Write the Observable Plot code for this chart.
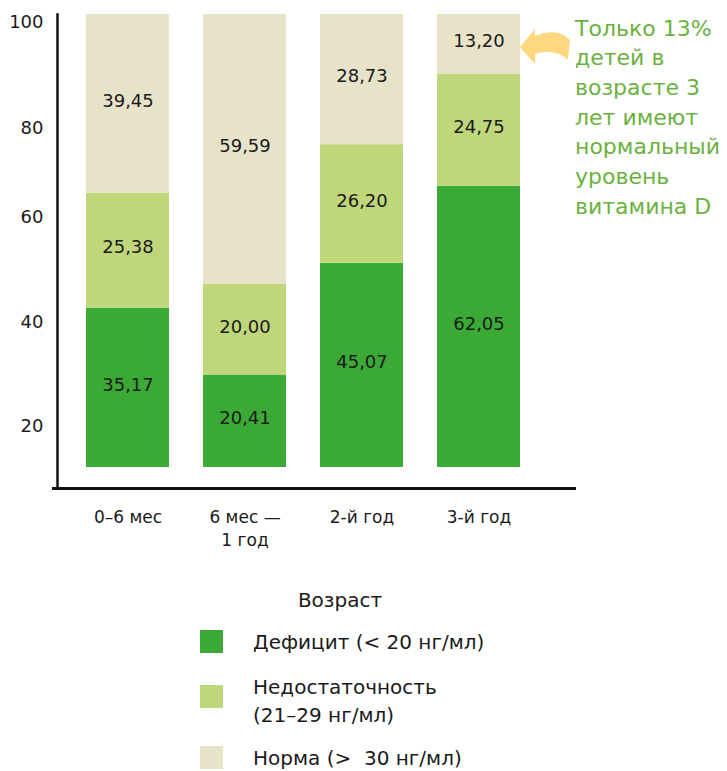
<!DOCTYPE html>
<html>
<head>
<meta charset="utf-8">
<script src="https://cdn.jsdelivr.net/npm/d3@7"></script>
<script src="https://cdn.jsdelivr.net/npm/@observablehq/plot@0.6"></script>
<style>
  body { margin: 0; background: #fff; font-family: "DejaVu Sans", sans-serif; color: #1a1a1a; }
  #wrap { position: relative; width: 727px; height: 771px; overflow: hidden; }
  #chart { position: absolute; left: 0; top: 0; }
  .lg { position: absolute; font-size: 20px; line-height: 28px; white-space: pre; color: #1a1a1a; }
  .sw { position: absolute; width: 23px; height: 23px; }
</style>
</head>
<body>
<div id="wrap">
  <div id="chart"></div>
</div>
<script>
// ---- data ----
const ages = ["0–6 мес", "6 мес —\n1 год", "2-й год", "3-й год"];
const statuses = ["Дефицит (< 20 нг/мл)", "Недостаточность\n(21–29 нг/мл)", "Норма (>  30 нг/мл)"];
const deficit = [35.17, 20.41, 45.07, 62.05];
const insufficiency = [25.38, 20.00, 26.20, 24.75];
const normal = [39.45, 59.59, 28.73, 13.20];
const colors = ["#3BA935", "#C0D67A", "#E7E3C8"];
const legendTitle = "Возраст";
const annotation = "Только 13%\nдетей в\nвозрасте 3\nлет имеют\nнормальный\nуровень\nвитамина D";
// y-axis labels as printed in the source, and where they were printed (in bar units)
const yAxisLabels = ["20", "40", "60", "80", "100"];
const yAxisLabelAt = [9.2, 32.0, 55.2, 75.0, 98.2];

const series = [deficit, insufficiency, normal];
const rows = [];
series.forEach((vals, si) => {
  vals.forEach((v, ai) => rows.push({age: ages[ai], status: statuses[si], value: v}));
});
const fmt = v => v.toFixed(2).replace(".", ",");

const chart = Plot.plot({
  width: 727,
  height: 560,
  marginTop: 14,
  marginBottom: 72,
  marginLeft: 57,
  marginRight: 178,
  style: {fontFamily: "DejaVu Sans", fontSize: "18px", color: "#1a1a1a", background: "transparent"},
  x: {domain: ages, paddingInner: 0.29, paddingOuter: 0.24, axis: null},
  y: {domain: [0, 100], insetBottom: 21, axis: null},
  color: {domain: statuses, range: colors},
  marks: [
    Plot.barY(rows, {x: "age", y: "value", fill: "status", z: "status"}),
    Plot.text(rows, Plot.stackY({x: "age", y: "value", z: "status", text: d => fmt(d.value), fill: "#1a1a1a", fontSize: 18, dy: -3})),
    Plot.axisY({ticks: yAxisLabelAt, tickFormat: d => yAxisLabels[yAxisLabelAt.indexOf(d)], tickSize: 0, tickPadding: 14, fontSize: 18, label: null}),
    Plot.text(ages, {x: d => d, frameAnchor: "bottom", lineAnchor: "top", dy: 18, fontSize: 17, lineHeight: 1.35, fill: "#1a1a1a"}),
    Plot.frame({anchor: "left", stroke: "#111", strokeWidth: 2.5}),
    Plot.frame({anchor: "bottom", stroke: "#111", strokeWidth: 3, insetLeft: -4, insetRight: -25}),
    Plot.text([annotation], {x: () => ages[3], y: () => 100, text: d => d, textAnchor: "start", lineAnchor: "top", dx: 96, dy: 0, fontSize: 22, lineHeight: 1.35, fill: "#6AB23E"})
  ]
});
document.getElementById("chart").appendChild(chart);

// ---- curved arrow pointing at the 3rd-year "norm" segment ----
(function () {
  const xs = chart.scale("x");
  const ys = chart.scale("y");
  const i = ages.indexOf(ages[3]);
  const bandStart = xs.apply ? xs.apply(ages[3]) : (xs.range[0] + xs.step * (xs.paddingOuter + i));
  const x0 = bandStart + xs.bandwidth;
  const y0 = ys.apply ? ys.apply(100) : 14;
  const p = d3.path();
  p.moveTo(x0, y0 + 33);
  p.lineTo(x0 + 15, y0 + 15);
  p.lineTo(x0 + 15, y0 + 22);
  p.bezierCurveTo(x0 + 28, y0 + 16, x0 + 42, y0 + 17, x0 + 50, y0 + 26);
  p.lineTo(x0 + 48, y0 + 46);
  p.bezierCurveTo(x0 + 40, y0 + 38, x0 + 28, y0 + 36, x0 + 15, y0 + 40);
  p.lineTo(x0 + 15, y0 + 50);
  p.closePath();
  d3.select(chart).append("path").attr("d", p.toString()).attr("fill", "#FFD77E");
})();

// ---- legend (HTML, below the SVG) ----
const wrap = document.getElementById("wrap");
const title = document.createElement("div");
title.className = "lg";
title.textContent = legendTitle;
title.style.left = "0px"; title.style.width = "680px"; title.style.textAlign = "center"; title.style.top = "586px";
wrap.appendChild(title);
const swTops = [630, 685, 746];
const txtTops = [628, 673, 744];
statuses.forEach((s, i) => {
  const sw = document.createElement("div");
  sw.className = "sw";
  sw.style.left = "200px"; sw.style.top = swTops[i] + "px"; sw.style.background = colors[i];
  wrap.appendChild(sw);
  const t = document.createElement("div");
  t.className = "lg";
  t.textContent = s;
  t.style.left = "253px"; t.style.top = txtTops[i] + "px";
  wrap.appendChild(t);
});
</script>
</body>
</html>
